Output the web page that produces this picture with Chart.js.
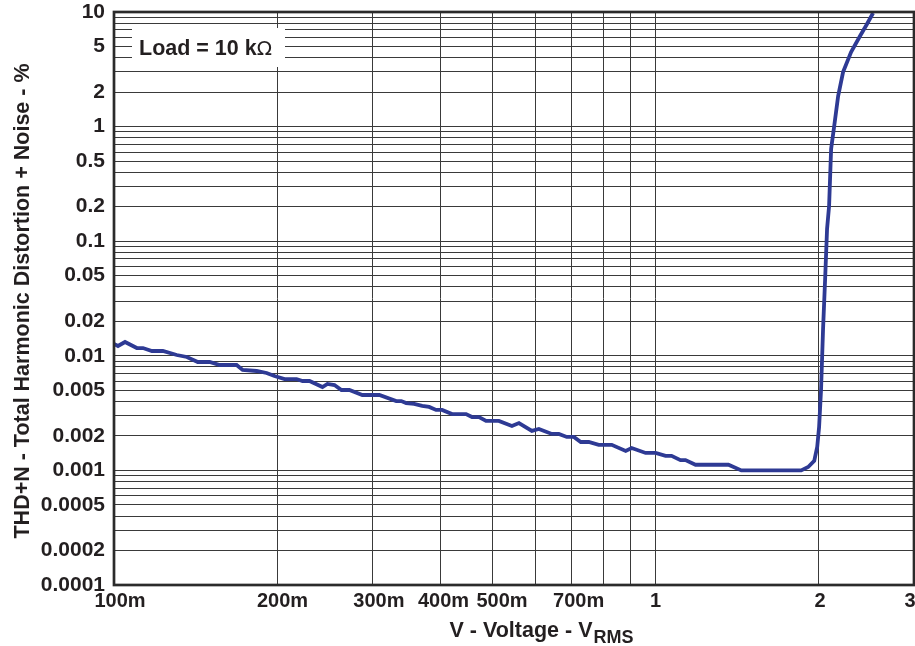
<!DOCTYPE html>
<html>
<head>
<meta charset="utf-8">
<script src="https://cdn.jsdelivr.net/npm/chart.js@4"></script>
<style>
  html, body { margin: 0; padding: 0; background: #ffffff; }
  #wrap { width: 915px; height: 646px; }
</style>
</head>
<body>
<div id="wrap"><canvas id="thd" width="915" height="646"></canvas></div>
<script>
// Output voltage (V RMS) and THD+N (%) for a 10 kOhm load
const voltage = [
  0.1000, 0.1017, 0.1048, 0.1102, 0.1131, 0.1175, 0.1231, 0.1306, 0.1363, 0.1428, 0.1502,
  0.1567, 0.1684, 0.1728, 0.1834, 0.1913, 0.1979, 0.2065, 0.2173, 0.2229, 0.2296,
  0.2426, 0.2478, 0.2553, 0.2630, 0.2720, 0.2874, 0.3090, 0.3320, 0.3391, 0.3464,
  0.3583, 0.3707, 0.3819, 0.3933, 0.4035, 0.4209, 0.4467, 0.4582, 0.4721, 0.4863, 0.5136,
  0.5429, 0.5594, 0.5910, 0.6088, 0.6433, 0.6627, 0.6855, 0.7063, 0.7275, 0.7526,
  0.7852, 0.8299, 0.8806, 0.9033, 0.9585, 1.0000, 1.0433, 1.0702, 1.1117, 1.1355,
  1.185, 1.363, 1.440, 1.857, 1.913, 1.963, 1.988, 2.004, 2.021, 2.038, 2.056,
  2.073, 2.091, 2.109, 2.137, 2.173, 2.219, 2.296, 2.385, 2.457, 2.521
];
const thdn = [
  0.01268, 0.01218, 0.01319, 0.01169, 0.01169, 0.01101, 0.01101, 0.01016, 0.00976, 0.00883, 0.00883,
  0.00831, 0.00831, 0.00752, 0.00737, 0.00708, 0.00666, 0.00627, 0.00627, 0.00603, 0.00603,
  0.00534, 0.00568, 0.00556, 0.00503, 0.00503, 0.00455, 0.00455, 0.00403, 0.00403, 0.00387,
  0.00380, 0.00365, 0.00358, 0.00337, 0.00337, 0.00310, 0.00310, 0.00292, 0.00292, 0.00270, 0.00270,
  0.00244, 0.00259, 0.00221, 0.00230, 0.00208, 0.00208, 0.00196, 0.00196, 0.00177, 0.00177,
  0.00167, 0.00167, 0.00148, 0.00157, 0.00142, 0.00142, 0.00134, 0.00134, 0.00123, 0.00123,
  0.00112, 0.00112, 0.00100, 0.00100, 0.00107, 0.00121, 0.00160, 0.00239, 0.00513, 0.0171, 0.0468,
  0.1278, 0.203, 0.638, 1.012, 1.849, 2.995, 4.477, 6.175, 7.86, 9.8
];

// Grid positions and the labels printed on them
const xGridValues = [0.1, 0.2, 0.3, 0.4, 0.5, 0.6, 0.7, 0.8, 0.9, 1, 2, 3];
const xTickValues = [0.1, 0.2, 0.3, 0.4, 0.5, 0.7, 1, 2, 3];
const xTickLabels = ['100m', '200m', '300m', '400m', '500m', '700m', '1', '2', '3'];
const yTickValues = [10, 5, 2, 1, 0.5, 0.2, 0.1, 0.05, 0.02, 0.01, 0.005, 0.002, 0.001, 0.0005, 0.0002, 0.0001];
const yTickLabels = ['10', '5', '2', '1', '0.5', '0.2', '0.1', '0.05', '0.02', '0.01', '0.005', '0.002', '0.001', '0.0005', '0.0002', '0.0001'];
const yDecades = [0.0001, 0.001, 0.01, 0.1, 1];

const legendText = 'Load = 10 k';
const xTitle = 'V - Voltage - V';
const xTitleSub = 'RMS';
const yTitle = 'THD+N - Total Harmonic Distortion + Noise - %';

const FONT = '"Liberation Sans", Arial, Helvetica, sans-serif';
const INK = '#231f20';
// small horizontal nudges (px) that keep the crowded voltage labels apart
const xLabelNudge = [6, 5.5, 6.5, 3.5, 9.5, 7, 0, 1.5, -4];

function near(a, b) { return Math.abs(a - b) / b < 1e-6; }
function labelFor(values, labels, v) {
  for (let i = 0; i < values.length; i++) if (near(v, values[i])) return labels[i];
  return '';
}

// y grid: every 1..9 step of each decade, plus the top line at 10
const yGridValues = [];
yDecades.forEach(d => { for (let k = 1; k <= 9; k++) yGridValues.push(+(d * k).toPrecision(6)); });
yGridValues.push(10);

const points = voltage.map((v, i) => ({ x: v, y: thdn[i] }));

const decorations = {
  id: 'decorations',
  afterDatasetsDraw(chart) {
    const { ctx, chartArea: a } = chart;
    const xs = chart.scales.x;
    ctx.save();
    // plot frame
    ctx.strokeStyle = '#2b2b2b';
    ctx.lineWidth = 2.7;
    ctx.strokeRect(a.left, a.top, a.right - a.left, a.bottom - a.top);

    // voltage tick labels, placed from the x scale
    ctx.fillStyle = INK;
    ctx.font = 'bold 20px ' + FONT;
    ctx.textAlign = 'center';
    ctx.textBaseline = 'middle';
    xTickValues.forEach((v, i) => {
      ctx.fillText(xTickLabels[i], xs.getPixelForValue(v) + xLabelNudge[i], a.bottom + 16);
    });

    // load note with a white backing over the grid
    ctx.fillStyle = '#ffffff';
    ctx.fillRect(132, 28, 153, 39);
    ctx.fillStyle = INK;
    ctx.textBaseline = 'alphabetic';
    ctx.textAlign = 'left';
    ctx.font = 'bold 21.5px ' + FONT;
    ctx.fillText(legendText, 139, 55);
    const w = ctx.measureText(legendText).width;
    ctx.font = '20px "DejaVu Sans", ' + FONT;
    ctx.fillText('\u03A9', 139 + w, 55);

    // x axis title with subscript
    ctx.font = 'bold 21.5px ' + FONT;
    const mainW = ctx.measureText(xTitle).width;
    ctx.font = 'bold 18px ' + FONT;
    const subW = ctx.measureText(xTitleSub).width;
    const startX = 541 - (mainW + subW) / 2;
    ctx.font = 'bold 21.5px ' + FONT;
    ctx.fillText(xTitle, startX, 637);
    ctx.font = 'bold 18px ' + FONT;
    ctx.fillText(xTitleSub, startX + mainW + 1, 643);

    // y axis title
    ctx.translate(29, 301);
    ctx.rotate(-Math.PI / 2);
    ctx.textAlign = 'center';
    ctx.font = 'bold 21.5px ' + FONT;
    ctx.fillText(yTitle, 0, 0);
    ctx.restore();
  }
};

new Chart(document.getElementById('thd'), {
  type: 'line',
  data: {
    datasets: [{
      data: points,
      borderColor: '#2e3a94',
      borderWidth: 3.8,
      pointRadius: 0,
      tension: 0,
      fill: false
    }]
  },
  options: {
    responsive: false,
    animation: false,
    devicePixelRatio: 1,
    layout: { padding: { left: 0, top: 12, right: 1, bottom: 0 } },
    plugins: { legend: { display: false }, tooltip: { enabled: false } },
    scales: {
      x: {
        type: 'logarithmic',
        min: 0.1,
        max: 3,
        afterBuildTicks(scale) { scale.ticks = xGridValues.map(v => ({ value: v })); },
        afterFit(scale) { scale.height = 61; scale.paddingLeft = 0; scale.paddingRight = 0; },
        grid: { color: '#3a3a3a', lineWidth: 1, drawTicks: false },
        border: { display: false },
        ticks: { display: false, autoSkip: false, maxRotation: 0 }
      },
      y: {
        type: 'logarithmic',
        min: 0.0001,
        max: 10,
        afterBuildTicks(scale) { scale.ticks = yGridValues.map(v => ({ value: v })); },
        afterFit(scale) { scale.width = 114; scale.paddingTop = 0; scale.paddingBottom = 0; },
        grid: { color: '#3a3a3a', lineWidth: 1, drawTicks: false },
        border: { display: false },
        ticks: {
          autoSkip: false,
          padding: 9,
          color: INK,
          font: { family: FONT, size: 21, weight: 'bold' },
          callback: (v) => labelFor(yTickValues, yTickLabels, v)
        }
      }
    }
  },
  plugins: [decorations]
});
</script>
</body>
</html>
